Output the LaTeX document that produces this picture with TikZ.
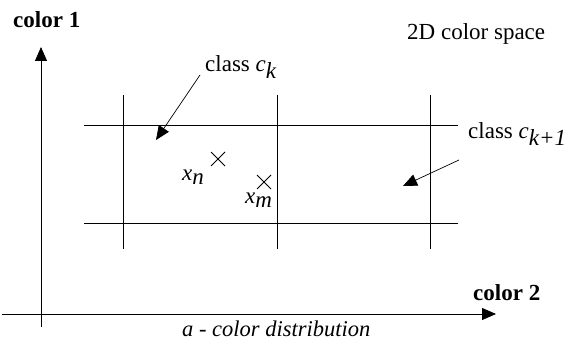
\documentclass[tikz,border=0pt]{standalone}
\usepackage{fontspec}
\setmainfont{Liberation Serif}
\usetikzlibrary{arrows.meta}
\begin{document}
\begin{tikzpicture}[x=1pt,y=-1pt,
  line/.style={line width=0.8pt},
  axis/.style={line width=0.8pt,-{Triangle[length=14pt,width=12pt]}},
  pointer/.style={line width=0.7pt,-{Triangle[length=14pt,width=12pt]}},
  lbl/.style={inner sep=0pt,font=\fontsize{23}{26}\selectfont},
  blbl/.style={inner sep=0pt,font=\fontsize{23}{26}\selectfont\bfseries},
  cross/.style={line width=0.8pt}]
\useasboundingbox (0,0) rectangle (569,342);
% axes
\coordinate (yb) at (41,327);
\coordinate (yt) at (41,47);
\coordinate (xl) at (2,314);
\coordinate (xr) at (496,314);
\draw[axis] (yb) -- (yt);
\draw[axis] (xl) -- (xr);
\node[blbl,anchor=west] (c1) at (13,20) {color 1};
\node[blbl,anchor=west] (c2) at (473,293) {color 2};
\node[lbl,anchor=west] (space) at (407,34) {2D color space};
\node[lbl,font=\fontsize{22.5}{26}\selectfont\itshape,anchor=west] (dist) at (182,329) {a - color distribution};
% grid
\coordinate (h1a) at (84,125); \coordinate (h1b) at (458,125);
\coordinate (h2a) at (84,223); \coordinate (h2b) at (458,223);
\coordinate (v1a) at (123,95); \coordinate (v1b) at (123,249);
\coordinate (v2a) at (277,95); \coordinate (v2b) at (277,249);
\coordinate (v3a) at (430,95); \coordinate (v3b) at (430,249);
\draw[line] (h1a) -- (h1b);
\draw[line] (h2a) -- (h2b);
\draw[line] (v1a) -- (v1b);
\draw[line] (v2a) -- (v2b);
\draw[line] (v3a) -- (v3b);
% points
\coordinate (pn) at (218,159);
\coordinate (pm) at (264,182);
\draw[cross] ([shift={(-7,-7)}]pn) -- ([shift={(7,7)}]pn);
\draw[cross] ([shift={(-7,7)}]pn) -- ([shift={(7,-7)}]pn);
\draw[cross] ([shift={(-7,-7)}]pm) -- ([shift={(7,7)}]pm);
\draw[cross] ([shift={(-7,7)}]pm) -- ([shift={(7,-7)}]pm);
\node[lbl,anchor=west] (xn) at (182,177) {\textit{x}$_{\textit{n}}$};
\node[lbl,anchor=west] (xm) at (245,200) {\textit{x}$_{\textit{m}}$};
% class labels
\node[lbl,anchor=west] (ck) at (205,67) {class \textit{c}$_{\textit{k}}$};
\node[lbl,anchor=west] (ck1) at (468,134) {class \textit{c}$_{\textit{k+1}}$};
\coordinate (cks) at (200,75);
\coordinate (ckt) at (156,140);
\coordinate (ck1s) at (459,160);
\coordinate (ck1t) at (403,186);
\draw[pointer] (cks) -- (ckt);
\draw[pointer] (ck1s) -- (ck1t);
\end{tikzpicture}
\end{document}
